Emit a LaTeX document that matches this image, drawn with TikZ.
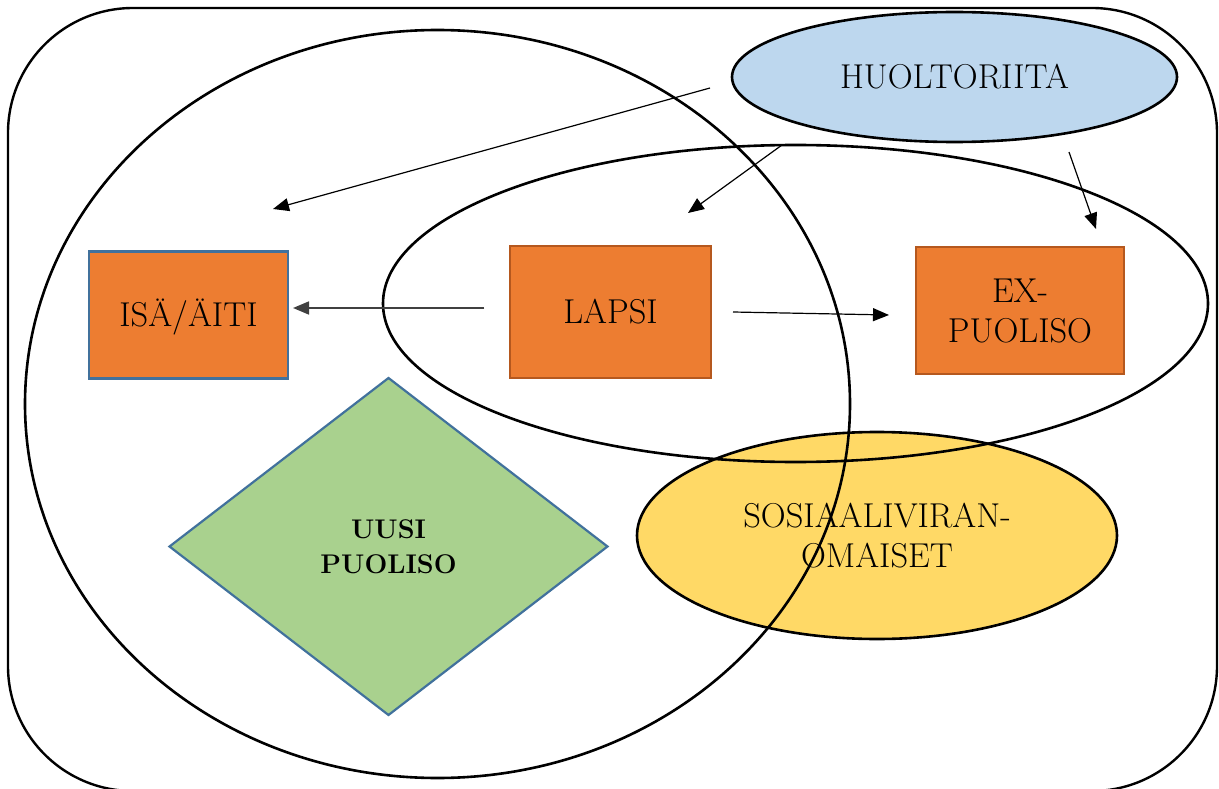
\documentclass[tikz,border=0pt]{standalone}
\usetikzlibrary{shapes.geometric,arrows.meta}
\definecolor{boxorange}{HTML}{ED7D31}
\definecolor{orangeedge}{HTML}{B5581E}
\definecolor{blueedge}{HTML}{41719C}
\definecolor{leafgreen}{HTML}{A9D18E}
\definecolor{skyblue}{HTML}{BDD7EE}
\definecolor{sunyellow}{HTML}{FFD966}
\definecolor{darkline}{HTML}{404040}
\begin{document}
\begin{tikzpicture}[x=1pt,y=-1pt,
  every node/.style={font=\fontsize{34.5}{40}\selectfont, inner sep=0pt, outer sep=0pt},
  ring/.style={ellipse, draw=black, line width=2.6pt},
  orangebox/.style={rectangle, fill=boxorange, line width=2.2pt},
  oneline/.style={text height=23.6pt, text depth=0pt},
  conn/.style={-{Triangle[length=16pt,width=13pt]}, line width=1.2pt}
]
\useasboundingbox (0,0) rectangle (1219,789);
\clip (0,0) rectangle (1219,789);

% outer frame
\draw[line width=2.4pt, rounded corners=125pt] (8,8) rectangle (1217,791);

% filled shapes
\node[ring, fill=sunyellow, minimum width=480pt, minimum height=207pt, align=center]
  (sos) at (877,535.5) {SOSIAALIVIRAN-\\OMAISET};
\node[ring, fill=skyblue, minimum width=445pt, minimum height=130pt]
  (huolto) at (954.5,77) {HUOLTORIITA};

\node[orangebox, oneline, draw=blueedge, minimum width=199pt, minimum height=127pt]
  (parent) at (188.5,315) {ISÄ/ÄITI};
\node[orangebox, oneline, draw=orangeedge, minimum width=201pt, minimum height=132pt]
  (child) at (610.5,312) {LAPSI};
\node[orangebox, draw=orangeedge, minimum width=208pt, minimum height=127pt, align=center]
  (ex) at (1020,310.5) {EX-\\PUOLISO};

\node[diamond, fill=leafgreen, draw=blueedge, line width=2.2pt, aspect=1.3,
  minimum width=438pt, minimum height=337pt, align=center,
  font=\fontsize{27}{35}\selectfont\bfseries]
  (newspouse) at (388.5,546.5) {UUSI\\PUOLISO};

% set outlines
\node[ring, minimum width=825pt, minimum height=748pt] (family) at (437.5,404) {};
\node[ring, minimum width=825pt, minimum height=317pt] (childzone) at (795.5,303.5) {};

% connectors
\coordinate (h1) at (710,88);   \coordinate (t1) at (273,209);
\coordinate (h2) at (782,145);  \coordinate (t2) at (688,213);
\coordinate (h3) at (1069,152); \coordinate (t3) at (1096,229);
\coordinate (l1) at (484,308);  \coordinate (t4) at (293,308);
\coordinate (l2) at (733,312);  \coordinate (t5) at (889,315);

\draw[conn] (h1) -- (t1);
\draw[conn] (h2) -- (t2);
\draw[conn] (h3) -- (t3);
\draw[conn, draw=darkline, fill=black, line width=1.7pt] (l1) -- (t4);
\draw[conn] (l2) -- (t5);
\end{tikzpicture}
\end{document}
